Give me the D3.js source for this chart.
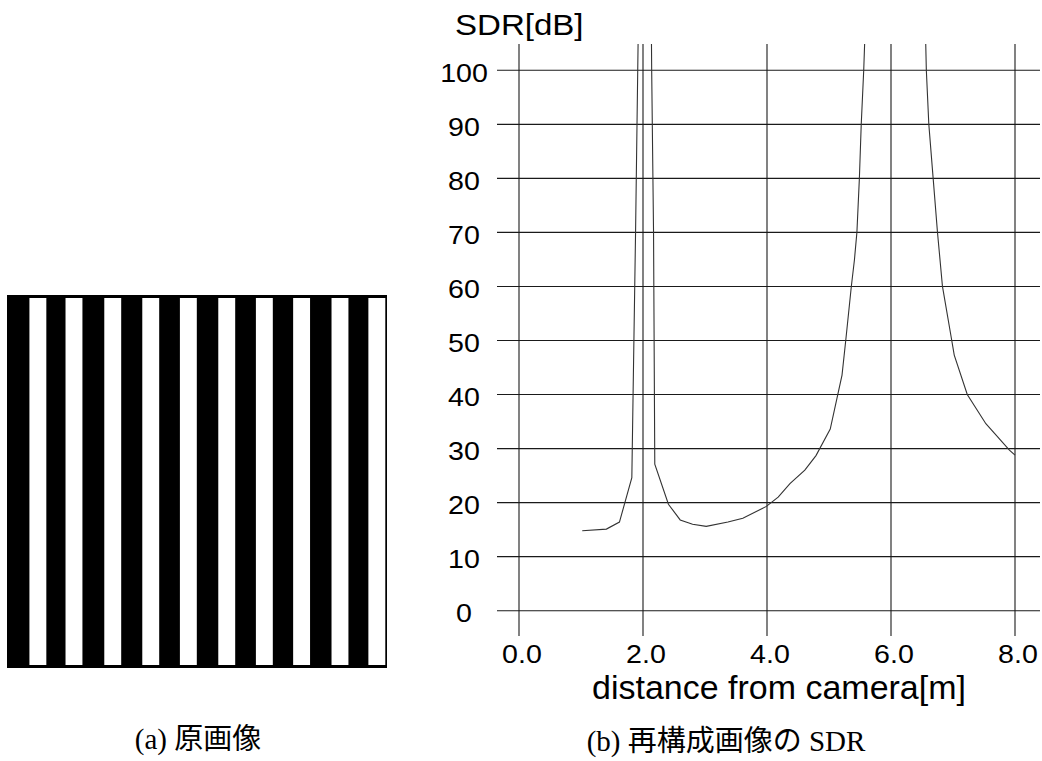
<!DOCTYPE html>
<html>
<head>
<meta charset="utf-8">
<script src="https://cdn.jsdelivr.net/npm/d3@7"></script>
<style>
  body { margin: 0; background: #fff; }
</style>
</head>
<body>
<div class="box"></div>
<script>
// (a) stripe pattern, left edge of each white stripe in image units (0-100)
const stripeStarts = [5.9, 15.4, 25.6, 35.6, 45.5, 55.6, 65.5, 75.3, 85.4, 95.1];
const stripeWidth = 4.45;

// (b) SDR of the reconstructed image, off-scale points go above the clip
const distance = [1.02, 1.41, 1.62, 1.82, 1.84, 1.88, 1.915, 1.95,
                  2.12, 2.14, 2.17, 2.19, 2.41, 2.60, 2.80, 3.02, 3.37, 3.61, 3.99,
                  4.18, 4.37, 4.61, 4.79, 5.02, 5.21, 5.27, 5.36, 5.41, 5.45, 5.49, 5.52, 5.56, 5.59,
                  6.55, 6.57, 6.61, 6.68, 6.75, 6.83, 6.98, 7.02, 7.23, 7.53, 7.67, 7.91, 8.00];
const sdr = [14.8, 15.1, 16.4, 24.6, 40, 70, 100, 130,
             130, 100, 70, 27.1, 19.7, 16.8, 16.0, 15.6, 16.4, 17.1, 19.3,
             21.0, 23.5, 26.0, 28.7, 33.6, 43.6, 50, 60, 64.9, 70, 80, 90, 100, 110,
             110, 100, 90, 80, 70, 60, 50, 47.3, 40, 34.6, 32.8, 29.7, 28.8];

const xTicks = [0, 2, 4, 6, 8];
const yTicks = [0, 10, 20, 30, 40, 50, 60, 70, 80, 90, 100];

const sans = '"Liberation Sans", Arial, Helvetica, sans-serif';
const serif = '"Liberation Serif", "Noto Sans CJK JP", serif';

const svg = d3.select('.box')
              .append('svg')
              .attr('width', 1042)
              .attr('height', 761)
              .style('display', 'block');

// petit helper : texte un peu étiré en largeur comme sur le scan
const label = (g, x, y, txt, size, sx, anchor, family) => {
    g.append('text')
     .attr('transform', `translate(${x}, ${y}) scale(${sx}, 1)`)
     .attr('text-anchor', anchor)
     .attr('font-family', family)
     .attr('font-size', size)
     .attr('fill', '#000')
     .text(txt);
};

// ---- (a) original image
const imgX = d3.scaleLinear().domain([0, 100]).range([7, 387]);
const img = svg.append('g');

img.append('rect')
   .attr('x', imgX(0))
   .attr('y', 295)
   .attr('width', imgX(100) - imgX(0))
   .attr('height', 373)
   .attr('fill', '#000');

img.selectAll('rect.stripe')
   .data(stripeStarts)
   .enter()
   .append('rect')
   .attr('class', 'stripe')
   .attr('x', d => imgX(d))
   .attr('y', 298)
   .attr('width', imgX(stripeWidth) - imgX(0))
   .attr('height', 367)
   .attr('fill', '#fff');

label(svg, 198, 749, '(a) 原画像', 29, 1, 'middle', serif);

// ---- (b) SDR chart
const x = d3.scaleLinear().domain([0, 8]).range([519, 1015]);
const y = d3.scaleLinear().domain([0, 100]).range([610.7, 70.3]);

const grid = svg.append('g')
                .attr('stroke', '#1a1a1a')
                .attr('stroke-width', 1.1);

grid.selectAll('line.h')
    .data(yTicks)
    .enter()
    .append('line')
    .attr('x1', 497)
    .attr('x2', 1040)
    .attr('y1', d => y(d))
    .attr('y2', d => y(d));

grid.selectAll('line.v')
    .data(xTicks)
    .enter()
    .append('line')
    .attr('x1', d => x(d))
    .attr('x2', d => x(d))
    .attr('y1', 44)
    .attr('y2', 636);

// clip en haut (la courbe sort du graphe)
svg.append('clipPath')
   .attr('id', 'plot')
   .append('rect')
   .attr('x', 480)
   .attr('y', 44)
   .attr('width', 560)
   .attr('height', 600);

const line = d3.line()
               .x(d => x(d[0]))
               .y(d => y(d[1]));

svg.append('path')
   .datum(d3.zip(distance, sdr))
   .attr('clip-path', 'url(#plot)')
   .attr('d', line)
   .attr('fill', 'none')
   .attr('stroke', '#333')
   .attr('stroke-width', 1.1);

// labels des axes
yTicks.forEach(d => label(svg, 464, y(d) + 11.5, d, 26, 1.1, 'middle', sans));
xTicks.forEach(d => label(svg, x(d) + 3, 662.5, d3.format('.1f')(d), 26, 1.1, 'middle', sans));

label(svg, 455, 35, 'SDR[dB]', 29, 1.14, 'start', sans);
label(svg, 779, 699, 'distance from camera[m]', 33, 1.03, 'middle', sans);

label(svg, 726, 751, '(b) 再構成画像の SDR', 29, 1, 'middle', serif);
</script>
</body>
</html>
